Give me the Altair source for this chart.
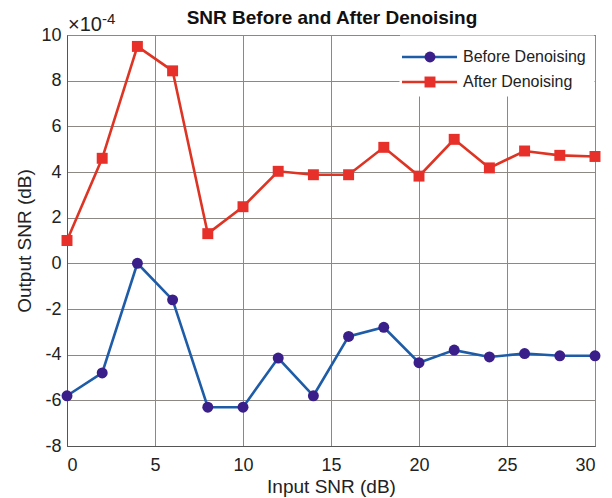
import altair as alt
import pandas as pd

input_snr = [0, 2, 4, 6, 8, 10, 12, 14, 16, 18, 20, 22, 24, 26, 28, 30]
before = [-5.8, -4.8, 0.0, -1.6, -6.3, -6.3, -4.15, -5.8, -3.2, -2.8, -4.35, -3.8, -4.1, -3.95, -4.05, -4.05]
after = [1.0, 4.6, 9.5, 8.43, 1.3, 2.48, 4.03, 3.88, 3.88, 5.08, 3.82, 5.43, 4.18, 4.92, 4.73, 4.68]

series_names = ["Before Denoising", "After Denoising"]
line_colors = ["#1f5ca8", "#de3424"]
marker_colors = ["#3a1f8a", "#e8302a"]
marker_shapes = ["circle", "square"]

W, H = 528, 411
FONT = "Liberation Sans"

df_b = pd.DataFrame({"x": input_snr, "y": before})
df_a = pd.DataFrame({"x": input_snr, "y": after})

xs = alt.Scale(domain=[0, 30], nice=False, zero=False)
ys = alt.Scale(domain=[-8, 10], nice=False, zero=False)

xenc = alt.X("x:Q", scale=xs, axis=alt.Axis(
    title="Input SNR (dB)", values=[0, 5, 10, 15, 20, 25, 30], grid=True,
    labelExpr="toString(datum.value)",
    gridColor="#8c8884", gridOpacity=1, gridWidth=1,
    domainColor="#555555", tickColor="#555555", tickSize=0,
    labelFont=FONT, labelFontSize=18, labelColor="#222222", labelPadding=10,
    titleFont=FONT, titleFontSize=19, titleFontWeight="normal", titleColor="#222222", titlePadding=3))
yenc = alt.Y("y:Q", scale=ys, axis=alt.Axis(
    title="Output SNR (dB)", values=list(range(-8, 11, 2)), grid=True,
    labelExpr="toString(datum.value)",
    gridColor="#8c8884", gridOpacity=1, gridWidth=1,
    domainColor="#555555", tickColor="#555555", tickSize=0,
    labelFont=FONT, labelFontSize=18, labelColor="#222222", labelPadding=6,
    titleFont=FONT, titleFontSize=19, titleFontWeight="normal", titleColor="#222222", titlePadding=6))

def series(df, i):
    line = alt.Chart(df).mark_line(color=line_colors[i], strokeWidth=2.6).encode(x=xenc, y=yenc)
    pts = alt.Chart(df).mark_point(shape=marker_shapes[i], filled=True, opacity=1,
                                   color=marker_colors[i], size=120).encode(x=xenc, y=yenc)
    return line + pts

# legend
leg_bg = alt.Chart(pd.DataFrame({"a": [0]})).mark_rect(color="white", stroke="white").encode(
    x=alt.value(333), x2=alt.value(527), y=alt.value(1), y2=alt.value(61))
leg_layers = [leg_bg]
row_y = [22, 47]
for i, name in enumerate(series_names):
    d = pd.DataFrame({"t": [name]})
    leg_layers.append(alt.Chart(d).mark_rule(color=line_colors[i], strokeWidth=2.6).encode(
        x=alt.value(335), x2=alt.value(390), y=alt.value(row_y[i])))
    leg_layers.append(alt.Chart(d).mark_point(shape=marker_shapes[i], filled=True, opacity=1,
                                             color=marker_colors[i], size=120).encode(
        x=alt.value(363), y=alt.value(row_y[i])))
    leg_layers.append(alt.Chart(d).mark_text(align="left", baseline="middle", font=FONT,
                                             fontSize=16, color="#222222").encode(
        x=alt.value(396), y=alt.value(row_y[i]), text="t:N"))

one = pd.DataFrame({"a": [0]})
title = alt.Chart(one).mark_text(text="SNR Before and After Denoising", font=FONT, fontSize=19,
                                 fontWeight="bold", color="#111111", align="center",
                                 baseline="middle").encode(x=alt.value(265), y=alt.value(-17))
exp1 = alt.Chart(one).mark_text(text="×10", font=FONT, fontSize=20, color="#222222",
                                align="left", baseline="middle").encode(x=alt.value(1), y=alt.value(-10))
exp2 = alt.Chart(one).mark_text(text="-4", font=FONT, fontSize=15, color="#222222",
                                align="left", baseline="middle").encode(x=alt.value(35), y=alt.value(-16))

chart = alt.layer(series(df_b, 0), series(df_a, 1), *leg_layers, title, exp1, exp2).properties(
    width=W, height=H,
    autosize=alt.AutoSizeParams(type="none"),
    padding={"left": 67, "top": 35, "right": 17, "bottom": 52},
    background="white",
).configure_view(stroke="#555555", strokeWidth=1)

chart.save("out.html", embed_options={"renderer": "svg", "actions": False})
